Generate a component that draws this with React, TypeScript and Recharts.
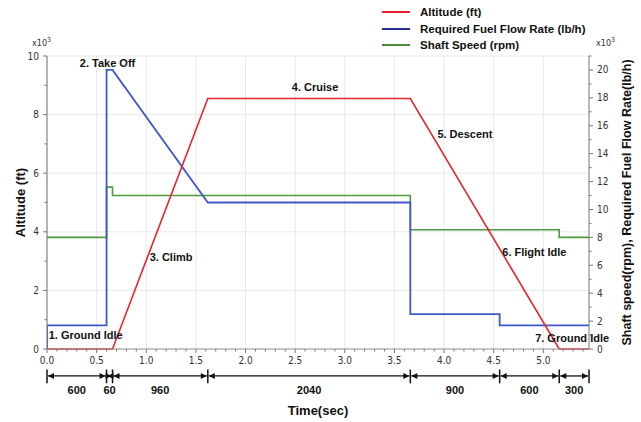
import {
  ComposedChart,
  Line,
  XAxis,
  YAxis,
  CartesianGrid,
  ReferenceLine,
  ReferenceDot,
} from 'recharts';

// time in x10^3 sec
const altTime = [0, 0.66, 1.62, 3.66, 5.16, 5.46];
const altValue = [0, 0, 8.55, 8.55, 0, 0];

const fuelTime = [0, 0, 0.6, 0.6, 0.66, 1.62, 3.66, 3.66, 4.56, 4.56, 5.46];
const fuelValue = [0, 1.7, 1.7, 20, 20, 10.5, 10.5, 2.5, 2.5, 1.7, 1.7];

const shaftTime = [0, 0.6, 0.6, 0.66, 0.66, 3.66, 3.66, 5.16, 5.16, 5.46];
const shaftValue = [8, 8, 11.6, 11.6, 11, 11, 8.55, 8.55, 8, 8];

const phaseNames = ['1. Ground Idle', '2. Take Off', '3. Climb', '4. Cruise', '5. Descent', '6. Flight Idle', '7. Ground Idle'];
const phaseX = [0.39, 0.61, 1.25, 2.7, 4.21, 4.91, 5.29];
const phaseY = [0.48, 9.76, 3.14, 8.94, 7.34, 3.31, 0.37];

const breakpoints = [0, 0.6, 0.66, 1.62, 3.66, 4.56, 5.16, 5.46];
const durations = ['600', '60', '960', '2040', '900', '600', '300'];

const xMajorTicks = [0, 0.5, 1, 1.5, 2, 2.5, 3, 3.5, 4, 4.5, 5];
const xMinorTicks = Array.from({ length: 55 }, (_, i) => Math.round(i) / 10);
const leftTicks = [0, 1, 2, 3, 4, 5, 6, 7, 8, 9, 10];
const leftGrid = [0, 2, 4, 6, 8, 10];
const rightTicks = Array.from({ length: 22 }, (_, i) => i);

const toPoints = (t: number[], v: number[]) => t.map((x, i) => ({ t: x, v: v[i] }));

const TICK_FONT = "'Liberation Sans Narrow', 'DejaVu Sans Condensed', sans-serif";
const FONT = "'Liberation Sans', Arial, sans-serif";

const RED = '#e8242c';
const BLUE = '#4257c8';
const GREEN = '#4f9a3c';

const ROW_Y = -0.92;

function XTick(props: any) {
  const { x, y, payload } = props;
  const v = payload.value;
  const major = Math.abs(v * 2 - Math.round(v * 2)) < 1e-6;
  return (
    <g>
      <line x1={x} x2={x} y1={y} y2={y + (major ? 4 : 2.5)} stroke="#777" />
      {major && (
        <text x={x} y={y + 15} textAnchor="middle" fontSize={10} fontFamily={TICK_FONT} fill="#333">
          {v.toFixed(1)}
        </text>
      )}
    </g>
  );
}

function LeftTick(props: any) {
  const { x, y, payload } = props;
  const major = payload.value % 2 === 0;
  return (
    <g>
      <line x1={x} x2={x - (major ? 4 : 2.5)} y1={y} y2={y} stroke="#777" />
      {major && (
        <text x={x - 8} y={y} textAnchor="end" dominantBaseline="central" fontSize={10} fontFamily={TICK_FONT} fill="#333">
          {payload.value}
        </text>
      )}
    </g>
  );
}

function RightTick(props: any) {
  const { x, y, payload } = props;
  const major = payload.value % 2 === 0;
  return (
    <g>
      <line x1={x} x2={x + (major ? 4 : 2.5)} y1={y} y2={y} stroke="#777" />
      {major && (
        <text x={x + 8} y={y} textAnchor="start" dominantBaseline="central" fontSize={10} fontFamily={TICK_FONT} fill="#333">
          {payload.value}
        </text>
      )}
    </g>
  );
}

function ArrowSpan(p: any) {
  const { x1, x2, y1 } = p;
  const a = x1 + 1;
  const b = x2 - 1;
  return (
    <g>
      <line x1={a} x2={b} y1={y1} y2={y1} stroke="#111" strokeWidth={1.3} />
      <polygon points={`${a},${y1} ${a + 6},${y1 - 3} ${a + 6},${y1 + 3}`} fill="#111" />
      <polygon points={`${b},${y1} ${b - 6},${y1 - 3} ${b - 6},${y1 + 3}`} fill="#111" />
    </g>
  );
}

function Legend() {
  const items = [
    { label: 'Altitude (ft)', color: '#e0202a' },
    { label: 'Required Fuel Flow Rate (lb/h)', color: '#27328f' },
    { label: 'Shaft Speed (rpm)', color: '#4e8a3a' },
  ];
  return (
    <div style={{ position: 'absolute', left: 382, top: 4, fontFamily: FONT, fontWeight: 700, fontSize: 11.5, color: '#111' }}>
      {items.map((it) => (
        <div key={it.label} style={{ display: 'flex', alignItems: 'center', height: 16.5 }}>
          <div style={{ width: 28, height: 2, background: it.color, marginRight: 10 }} />
          <span>{it.label}</span>
        </div>
      ))}
    </div>
  );
}

function Exp({ left }: { left: number }) {
  return (
    <div style={{ position: 'absolute', left, top: 36, fontFamily: TICK_FONT, fontSize: 9, color: '#333' }}>
      x10<sup style={{ fontSize: 7 }}>3</sup>
    </div>
  );
}

export default function App() {
  return (
    <div style={{ position: 'absolute', left: 0, top: 0, width: 641, height: 422, background: '#fff' }}>
      <Legend />
      <Exp left={32} />
      <Exp left={596} />
      <ComposedChart width={641} height={422} margin={{ top: 56, right: 0, bottom: 0, left: 0 }}>
        <CartesianGrid
          stroke="#e8e8e8"
          yAxisId="left"
          verticalValues={xMajorTicks}
          horizontalValues={leftGrid}
        />
        <XAxis
          dataKey="t"
          type="number"
          domain={[0, 5.46]}
          ticks={xMinorTicks}
          interval={0}
          allowDataOverflow
          height={73}
          stroke="#999"
          tickSize={0}
          tickMargin={0}
          tickLine={false}
          tick={<XTick />}
          label={{ value: 'Time(sec)', position: 'insideBottom', offset: 7, fontSize: 13, fontWeight: 700, fontFamily: FONT, fill: '#111' }}
        />
        <YAxis
          yAxisId="left"
          domain={[0, 10]}
          ticks={leftTicks}
          interval={0}
          width={47}
          stroke="#777"
          tickSize={0}
          tickMargin={0}
          tickLine={false}
          tick={<LeftTick />}
          label={{
            content: ({ viewBox }: any) => {
              const cx = viewBox.x + 20;
              const cy = viewBox.y + viewBox.height / 2;
              return (
                <text x={cx} y={cy} transform={`rotate(-90, ${cx}, ${cy})`} textAnchor="middle" dominantBaseline="central" fontSize={13} fontWeight={700} fontFamily={FONT} fill="#111">
                  Altitude (ft)
                </text>
              );
            },
          }}
        />
        <YAxis
          yAxisId="right"
          orientation="right"
          domain={[0, 21]}
          ticks={rightTicks}
          interval={0}
          width={52}
          stroke="#777"
          tickSize={0}
          tickMargin={0}
          tickLine={false}
          tick={<RightTick />}
          label={{
            content: ({ viewBox }: any) => {
              const cx = viewBox.x + 38;
              const cy = viewBox.y + viewBox.height / 2;
              return (
                <text x={cx} y={cy} transform={`rotate(-90, ${cx}, ${cy})`} textAnchor="middle" dominantBaseline="central" fontSize={12.5} fontWeight={700} fontFamily={FONT} fill="#111">
                  Shaft speed(rpm), Required Fuel Flow Rate(lb/h)
                </text>
              );
            },
          }}
        />
        <Line
          yAxisId="right"
          data={toPoints(shaftTime, shaftValue)}
          dataKey="v"
          type="linear"
          stroke={GREEN}
          strokeWidth={1.6}
          dot={false}
          isAnimationActive={false}
        />
        <Line
          yAxisId="right"
          data={toPoints(fuelTime, fuelValue)}
          dataKey="v"
          type="linear"
          stroke={BLUE}
          strokeWidth={1.8}
          dot={false}
          isAnimationActive={false}
        />
        <Line
          yAxisId="left"
          data={toPoints(altTime, altValue)}
          dataKey="v"
          type="linear"
          stroke={RED}
          strokeWidth={1.6}
          dot={false}
          isAnimationActive={false}
        />
        {phaseNames.map((name, i) => (
          <ReferenceDot
            key={name}
            yAxisId="left"
            x={phaseX[i]}
            y={phaseY[i]}
            r={1}
            fill="none"
            stroke="none"
            ifOverflow="visible"
            label={{ value: name, position: 'center', fontSize: 11, fontWeight: 700, fontFamily: FONT, fill: '#111' }}
          />
        ))}
        {breakpoints.map((b) => (
          <ReferenceLine
            key={`bar-${b}`}
            yAxisId="left"
            ifOverflow="visible"
            stroke="#111"
            strokeWidth={1.5}
            segment={[
              { x: b, y: -0.7 },
              { x: b, y: -1.17 },
            ]}
          />
        ))}
        {durations.map((d, i) => (
          <ReferenceLine
            key={`span-${i}`}
            yAxisId="left"
            ifOverflow="visible"
            segment={[
              { x: breakpoints[i], y: ROW_Y },
              { x: breakpoints[i + 1], y: ROW_Y },
            ]}
            shape={(p: any) => <ArrowSpan {...p} />}
          />
        ))}
        {durations.map((d, i) => (
          <ReferenceDot
            key={`dur-${i}`}
            yAxisId="left"
            x={(breakpoints[i] + breakpoints[i + 1]) / 2}
            y={-1.4}
            r={1}
            fill="none"
            stroke="none"
            ifOverflow="visible"
            label={{ value: d, position: 'center', fontSize: 11, fontWeight: 700, fontFamily: FONT, fill: '#111' }}
          />
        ))}
      </ComposedChart>
    </div>
  );
}
